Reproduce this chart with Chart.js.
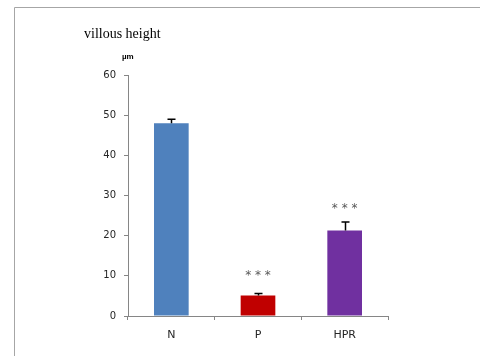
<!DOCTYPE html>
<html>
<head>
<meta charset="utf-8">
<script src="https://cdn.jsdelivr.net/npm/chart.js@4/dist/chart.umd.min.js"></script>
<style>
  html, body { margin: 0; padding: 0; background: #fff; }
  canvas { display: block; }
</style>
</head>
<body>
<canvas id="villi" width="480" height="356"></canvas>
<script>
// data
const groups = ['N', 'P', 'HPR'];
const heights = [48.0, 5.1, 21.3];
const errors = [1.0, 0.5, 2.1];
const barColors = ['#4f81bd', '#c00000', '#7030a0'];
const stars = ['', '* * *', '* * *'];
const starLevel = [null, 10.4, 27.1];
const yTicks = [0, 10, 20, 30, 40, 50, 60];

// frame, title, unit, error bars and asterisks
const extras = {
    id: 'extras',
    beforeDraw(chart) {
        const c = chart.ctx;
        c.save();
        c.strokeStyle = '#a6a6a6';
        c.lineWidth = 1;
        c.beginPath();
        c.moveTo(14.5, 356);
        c.lineTo(14.5, 7.5);
        c.lineTo(480, 7.5);
        c.stroke();

        c.fillStyle = '#000';
        c.font = '14px "Liberation Serif"';
        c.textBaseline = 'alphabetic';
        c.fillText('villous height', 84, 38);
        c.font = 'bold 8px "Liberation Sans"';
        c.fillText('\u00b5m', 122, 59);
        c.restore();
    },
    afterDatasetsDraw(chart) {
        const c = chart.ctx;
        const x = chart.scales.x;
        const y = chart.scales.y;
        c.save();
        c.strokeStyle = '#000';
        c.lineWidth = 1.5;
        for (let i = 0; i < groups.length; i++) {
            const px = Math.round(x.getPixelForValue(i)) + 0.5;
            const top = y.getPixelForValue(heights[i] + errors[i]);
            const base = y.getPixelForValue(heights[i]);
            c.beginPath();
            c.moveTo(px, base);
            c.lineTo(px, top);
            c.moveTo(px - 4, top);
            c.lineTo(px + 4, top);
            c.stroke();
        }
        c.fillStyle = '#595959';
        c.font = '12px "DejaVu Sans"';
        c.textAlign = 'center';
        c.textBaseline = 'middle';
        for (let i = 0; i < groups.length; i++) {
            if (!stars[i]) continue;
            c.fillText(stars[i], x.getPixelForValue(i), y.getPixelForValue(starLevel[i]) + 2);
        }
        c.restore();
    }
};

new Chart(document.getElementById('villi'), {
    type: 'bar',
    data: {
        labels: groups,
        datasets: [{
            data: heights,
            backgroundColor: barColors,
            borderWidth: 0,
            categoryPercentage: 1.0,
            barPercentage: 0.4
        }]
    },
    options: {
        responsive: false,
        animation: false,
        devicePixelRatio: 1,
        layout: { padding: { left: 0, right: 92, top: 75, bottom: 0 } },
        plugins: {
            legend: { display: false },
            tooltip: { enabled: false }
        },
        scales: {
            x: {
                afterFit: (s) => { s.height = 40; },
                grid: {
                    drawOnChartArea: false,
                    offset: true,
                    tickLength: 4,
                    color: '#868686'
                },
                border: { color: '#868686', width: 1 },
                ticks: {
                    color: '#262626',
                    padding: 9,
                    font: { family: 'DejaVu Sans', size: 11 }
                }
            },
            y: {
                min: 0,
                max: 60,
                afterFit: (s) => { s.width = 128; },
                afterBuildTicks: (s) => { s.ticks = yTicks.map(v => ({ value: v })); },
                grid: {
                    drawOnChartArea: false,
                    tickLength: 4,
                    color: '#868686'
                },
                border: { color: '#868686', width: 1 },
                ticks: {
                    color: '#262626',
                    padding: 8,
                    font: { family: 'DejaVu Sans', size: 10 }
                }
            }
        }
    },
    plugins: [extras]
});
</script>
</body>
</html>
